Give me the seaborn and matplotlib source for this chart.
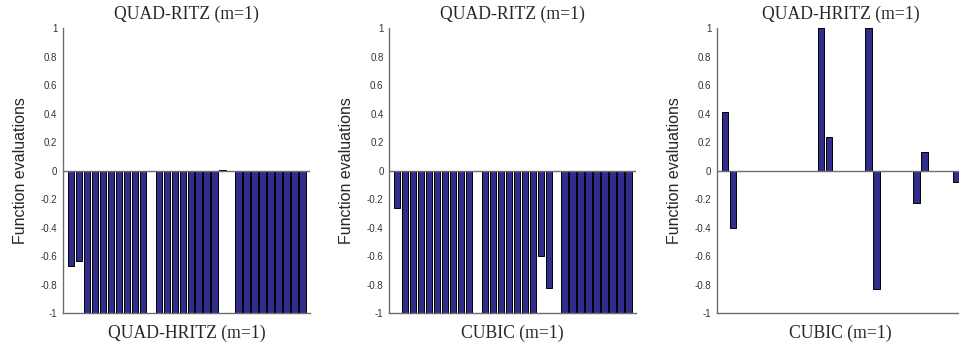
import numpy as np
import pandas as pd
import matplotlib
matplotlib.use('Agg')
import matplotlib.pyplot as plt
from matplotlib.ticker import FuncFormatter
import seaborn as sns

#%% data
runs = list(range(1, 31))

quad_ritz_vs_hritz = [-0.67, -0.63, -1, -1, -1, -1, -1, -1, -1, -1,
                      0, -1, -1, -1, -1, -1, -1, -1, -1, 0.005,
                      0, -1, -1, -1, -1, -1, -1, -1, -1, -1]
quad_ritz_vs_cubic = [-0.26, -1, -1, -1, -1, -1, -1, -1, -1, -1,
                      0, -1, -1, -1, -1, -1, -1, -1, -0.60, -0.82,
                      0, -1, -1, -1, -1, -1, -1, -1, -1, -1]
quad_hritz_vs_cubic = [0.41, -0.40, 0, 0, 0, 0, 0, 0, 0, 0,
                       0, 0, 1.0, 0.235, 0, 0, 0, 0, 1.0, -0.83,
                       0, 0, 0, 0, -0.225, 0.13, 0, 0, 0, -0.075]

titles = ['QUAD-RITZ (m=1)', 'QUAD-RITZ (m=1)', 'QUAD-HRITZ (m=1)']
xlabels = ['QUAD-HRITZ (m=1)', 'CUBIC (m=1)', 'CUBIC (m=1)']
series = [quad_ritz_vs_hritz, quad_ritz_vs_cubic, quad_hritz_vs_cubic]

#%% plot
sns.set_style('white')
plt.rcParams['font.family'] = ['Liberation Sans', 'DejaVu Sans']

bar_color = '#312d8c'
axis_color = '#6e6e6e'


def fmt(v, p):
    v = round(v, 1)
    return '0' if v == 0 else '%g' % v


fig = plt.figure(figsize=(9.59, 3.47), dpi=100)
lefts = [0.0657, 0.4057, 0.7477]

for i in range(3):
    ax = fig.add_axes([lefts[i], 0.097, 0.258, 0.821])
    df = pd.DataFrame({'run': runs, 'value': series[i]})
    sns.barplot(data=df, x='run', y='value', native_scale=True, width=0.8,
                color=bar_color, saturation=1, edgecolor='black', linewidth=0.7, ax=ax)
    # baseline drawn over bars so zero-height bars vanish
    ax.axhline(0, color=axis_color, linewidth=1.0, zorder=3)
    ax.set_xlim(0, 31)
    ax.set_ylim(-1, 1)
    ax.set_yticks(np.arange(-1, 1.01, 0.2))
    ax.yaxis.set_major_formatter(FuncFormatter(fmt))
    ax.set_xticks([0, 10, 20, 30])
    ax.set_xticklabels([])
    ax.tick_params(axis='both', direction='in', length=2.5, width=0.8,
                   colors=axis_color, labelcolor='#333333', labelsize=7, pad=3)
    ax.tick_params(axis='y', pad=4)
    for s in ['top', 'right']:
        ax.spines[s].set_visible(False)
    for s in ['left', 'bottom']:
        ax.spines[s].set_color(axis_color)
        ax.spines[s].set_linewidth(1.0)
    ax.set_title(titles[i], fontfamily='Liberation Serif', fontsize=12.7, pad=7)
    ax.set_xlabel(xlabels[i], fontfamily='Liberation Serif', fontsize=12.7, labelpad=5)
    ax.set_ylabel('Function evaluations', fontsize=11.5, labelpad=9)

fig.savefig('out.png', dpi=100)
